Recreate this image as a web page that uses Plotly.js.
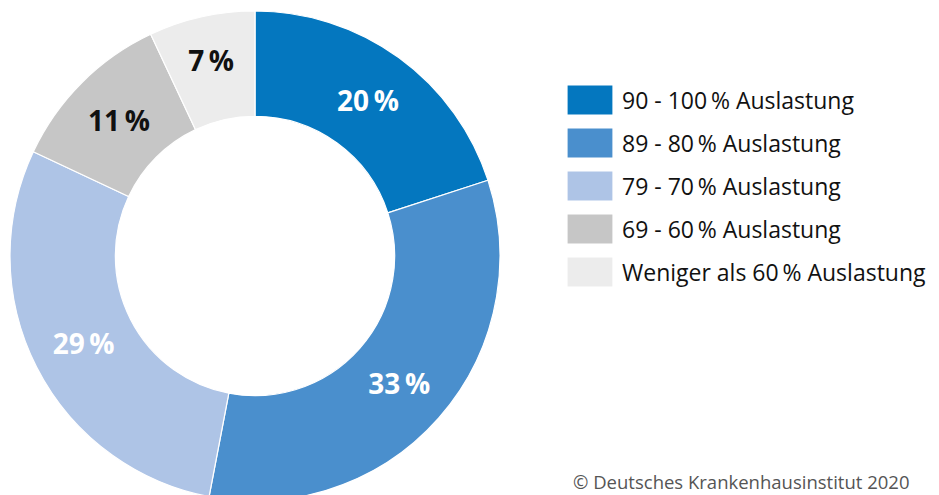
<!DOCTYPE html>
<html>
<head>
<meta charset="utf-8">
<script src="https://cdn.plot.ly/plotly-3.0.1.min.js"></script>
<style>
  html, body { margin: 0; padding: 0; background: #fff; overflow: hidden; }
  #plot { width: 939px; height: 512px; }
</style>
</head>
<body>
<div id="plot"></div>
<script>
// Auslastung der Intensivbetten (Anteil der Krankenhäuser)
var categories = [
    '90 - 100\u2009% Auslastung',
    '89 - 80\u2009% Auslastung',
    '79 - 70\u2009% Auslastung',
    '69 - 60\u2009% Auslastung',
    'Weniger als 60\u2009% Auslastung'
];
var shares = [20, 33, 29, 11, 7];
var sliceColors = ['#0477bf', '#4a8fcd', '#aec4e6', '#c6c6c6', '#ececec'];
var labelColors = ['#ffffff', '#ffffff', '#ffffff', '#111111', '#111111'];
var source = '\u00a9 Deutsches Krankenhausinstitut 2020';

var W = 939, H = 512;

var trace = {
    type: 'pie',
    labels: categories,
    values: shares,
    sort: false,
    direction: 'clockwise',
    rotation: 0,
    hole: 0.57,
    domain: { x: [10 / W, 500 / W], y: [(H - 501) / H, (H - 11) / H] },
    marker: { colors: sliceColors, line: { color: '#ffffff', width: 1.2 } },
    texttemplate: '%{value}\u2009%',
    textposition: 'inside',
    insidetextorientation: 'horizontal',
    textfont: { family: 'Open Sans', size: 28, color: labelColors, weight: 'bold' },
    hoverinfo: 'label+percent'
};

var layout = {
    width: W,
    height: H,
    margin: { l: 0, r: 0, t: 0, b: 0 },
    paper_bgcolor: '#ffffff',
    font: { family: 'Open Sans', color: '#111111' },
    showlegend: true,
    legend: {
        x: 548 / W,
        xanchor: 'left',
        y: (H - 80) / H,
        yanchor: 'top',
        font: { family: 'Open Sans', size: 23, color: '#111111' },
        itemclick: false,
        itemdoubleclick: false
    },
    annotations: [{
        text: source,
        xref: 'paper', yref: 'paper',
        x: 912 / W, y: (H - 481) / H,
        xanchor: 'right', yanchor: 'middle',
        showarrow: false,
        font: { family: 'Open Sans', size: 18.5, color: '#555555' }
    }]
};

Plotly.newPlot('plot', [trace], layout, { displayModeBar: false, staticPlot: true }).then(function (gd) {
    // larger square swatches and wider row spacing, like the original legend
    var box = gd.querySelector('.legend .scrollbox');
    if (box) box.removeAttribute('clip-path');
    var items = gd.querySelectorAll('.legend .traces');
    items.forEach(function (item, i) {
        item.setAttribute('transform', 'translate(0,' + (i * 43 + 20) + ')');
        var p = item.querySelector('.legendpie');
        if (p) {
            p.setAttribute('d', 'M23,15H-23V-15H23Z');
            p.parentNode.setAttribute('transform', 'translate(22,0)');
        }
        var t = item.querySelector('text.legendtext');
        if (t) t.setAttribute('x', 74);
    });
});
</script>
</body>
</html>
